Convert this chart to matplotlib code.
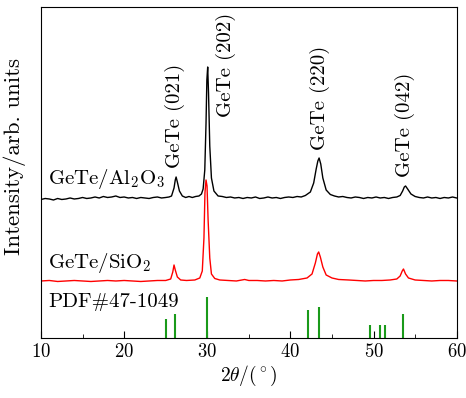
import numpy as np
import matplotlib.pyplot as plt
from matplotlib.ticker import MultipleLocator

plt.rcParams["font.family"] = "cmr10"
plt.rcParams["mathtext.fontset"] = "cm"
plt.rcParams["axes.formatter.use_mathtext"] = True
plt.rcParams.update({'font.size': 13})

# GeTe/Al2O3 pattern (2theta, intensity, arbitrary offset units)
al_x = [10, 10.5, 11, 11.5, 12, 12.5, 13, 13.5, 14, 14.5, 15, 15.5, 16, 16.5,
        17, 17.5, 18, 18.5, 19, 19.5, 20, 20.5, 21, 21.5, 22, 22.5, 23, 23.5,
        24, 24.5, 25, 25.4,
        25.7, 26.0, 26.15, 26.25, 26.4, 26.65, 27.0, 27.4, 27.8, 28.2, 28.6,
        29.0, 29.3, 29.5,
        29.7, 29.85, 29.95, 30.05, 30.15, 30.3, 30.5, 30.8, 31.3, 31.8, 32.3,
        32.8, 33.3, 33.8, 34.3, 34.8, 35.3, 35.8, 36.3, 36.8, 37.3, 37.8, 38.3,
        38.8, 39.3, 39.8, 40.3, 40.8, 41.3, 41.8, 42.4, 42.8, 43.1, 43.3, 43.45,
        43.65, 43.9, 44.3, 44.8, 45.3, 45.8, 46.3, 46.8, 47.3, 47.8, 48.3, 48.8,
        49.3, 49.8, 50.3, 50.8, 51.3, 51.8, 52.3, 52.8, 53.2,
        53.5, 53.7, 53.85, 54.1, 54.5, 55.0, 55.5, 56, 56.5, 57, 57.5, 58, 58.5,
        59, 59.5, 60]
al_y = [138.5, 139.5, 139, 138, 139.5, 138.5, 139, 140, 139, 139.5, 140.5, 139.5,
        140, 141, 140, 141.5, 140.5, 141, 142, 140.5, 141, 140, 140.5, 139.5,
        140.5, 140, 139.5, 140.5, 141, 140, 140.5, 141,
        142, 150, 158, 161, 156, 147, 142, 140.5, 141.5, 140.5, 141.5,
        142, 144, 149,
        168, 215, 258, 271, 245, 192, 160, 147, 142, 141.5, 140.5,
        141, 140, 140.5, 139.5, 140.5, 140, 141, 139.5, 140, 141, 140, 140.5,
        139.5, 140.5, 141, 140.5, 141.5, 141, 142.5, 146, 155, 169, 177, 180,
        174, 160, 148, 143.5, 142, 141, 141.5, 140.5, 140, 141, 140.5, 139.5,
        140.5, 140, 141, 140, 140.5, 139.5, 140.5, 141, 142.5,
        147, 151, 152, 149, 144, 141.5, 140.5, 140, 141, 140, 140.5, 139.5, 140.5,
        140, 141, 140]

# GeTe/SiO2 pattern
si_x = [10, 11, 12, 13, 14, 15, 16, 17, 18, 19, 20, 21, 22, 23, 24, 25,
        25.6, 25.85, 26.0, 26.15, 26.4, 26.8, 27.5, 28.5, 29.1, 29.4, 29.6,
        29.72, 29.85, 29.97, 30.1, 30.3, 30.5, 30.9, 31.5, 32.5, 33.5, 34.5, 35,
        36, 37, 38, 39, 40, 41, 42, 42.6, 43.0, 43.25, 43.4, 43.6, 43.9, 44.3,
        45, 45.8, 47, 48, 49, 50, 51, 52, 52.8, 53.2, 53.45, 53.6, 53.85, 54.2,
        55, 56, 57, 58, 59, 60]
si_y = [57, 57.5, 56.5, 57, 57.5, 57, 56.5, 57, 57.5, 57, 57.5, 57, 56.5, 57,
        57.5, 57.5,
        59, 66, 73, 68, 61, 58, 57.5, 58, 60, 67, 100,
        145, 158, 152, 118, 80, 64, 59.5, 58, 57.5, 57, 58.5, 57.5,
        57.5, 57, 57.5, 57, 58, 58.5, 60, 64, 75, 84, 86, 81, 71, 63,
        60, 58.5, 58, 57.5, 57, 57.5, 57.5, 58, 59, 62, 67, 69, 64, 60,
        58, 57.5, 57, 57.5, 57.5, 57]

# PDF#47-1049 reference lines
pdf_x = [25.05, 26.1, 29.95, 42.15, 43.4, 49.6, 50.8, 51.4, 53.6]
pdf_h = [19, 24, 41, 28, 31, 13, 13, 13, 24]

peak_labels = ["GeTe (021)", "GeTe (202)", "GeTe (220)", "GeTe (042)"]
peak_label_x = [26.1, 32.2, 43.6, 53.8]
peak_label_y = [170, 221, 188, 161]

fig = plt.figure(figsize=(4.66, 3.98), dpi=100)
ax = fig.add_axes([0.088, 0.1508, 0.892, 0.8316])

ax.plot(si_x, si_y, color='red', linewidth=1.0)
ax.plot(al_x, al_y, color='black', linewidth=1.0)
ax.vlines(pdf_x, 0, pdf_h, color='#1a9a1a', linewidth=1.5)

for t, x, y in zip(peak_labels, peak_label_x, peak_label_y):
    ax.text(x, y, t, rotation=90, ha='center', va='bottom', fontsize=15)

ax.text(10.85, 154, r'GeTe/Al$_2$O$_3$', fontsize=15)
ax.text(10.85, 70, r'GeTe/SiO$_2$', fontsize=15)
ax.text(10.85, 31, 'PDF#47-1049', fontsize=15)

ax.set_xlim(10, 60)
ax.set_ylim(0, 331)
ax.xaxis.set_major_locator(MultipleLocator(10))
ax.xaxis.set_minor_locator(MultipleLocator(5))
ax.tick_params(axis='x', which='both', direction='in', top=False)
ax.tick_params(axis='x', which='major', length=5, labelsize=13.5)
ax.tick_params(axis='x', which='minor', length=3)
ax.set_yticks([])

ax.set_xlabel(r'$2\theta/(^\circ)$', fontsize=14, labelpad=2)
ax.set_ylabel('Intensity/arb. units', fontsize=16.5)
ax.yaxis.set_label_coords(-0.035, 0.547)

plt.savefig("out.png", dpi=100)
